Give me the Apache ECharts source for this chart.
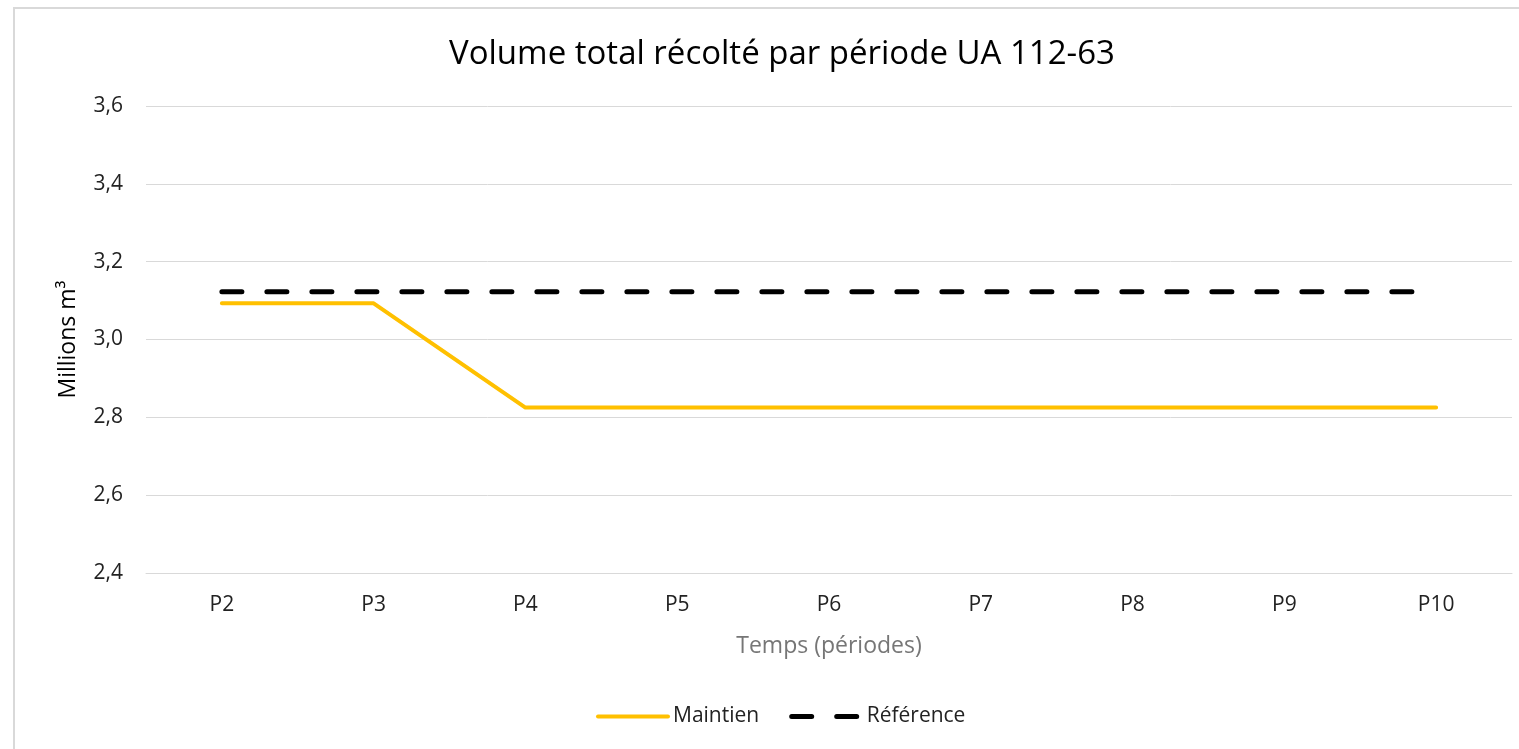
<!DOCTYPE html>
<html>
<head>
<meta charset="utf-8">
<script src="https://cdn.jsdelivr.net/npm/echarts@6/dist/echarts.min.js"></script>
<style>
  html, body { margin: 0; padding: 0; background: #fff; }
  #chart { width: 1519px; height: 749px; }
</style>
</head>
<body>
<div id="chart"></div>
<script>
// chart data
const periodes = ['P2', 'P3', 'P4', 'P5', 'P6', 'P7', 'P8', 'P9', 'P10'];
const maintien = [3.093, 3.093, 2.825, 2.825, 2.825, 2.825, 2.825, 2.825, 2.825];
const reference = [3.123, 3.123, 3.123, 3.123, 3.123, 3.123, 3.123, 3.123, 3.123];

const font = 'Open Sans';

const chart = echarts.init(document.getElementById('chart'));
chart.setOption({
    animation: false,
    textStyle: { fontFamily: font },
    graphic: [{
        type: 'rect',
        shape: { x: 14, y: 8, width: 1700, height: 900 },
        style: { fill: 'none', stroke: '#d9d9d9', lineWidth: 2 },
        silent: true
    }],
    title: {
        text: 'Volume total récolté par période UA 112-63',
        left: 444,
        top: 33,
        textStyle: { fontFamily: font, fontSize: 33, fontWeight: 'normal', color: '#000' }
    },
    legend: {
        bottom: 17,
        left: 591,
        itemWidth: 70,
        itemHeight: 14,
        itemGap: 30,
        itemStyle: { opacity: 0 },
        lineStyle: { width: 'inherit', type: 'inherit', cap: 'inherit' },
        textStyle: { fontFamily: font, fontSize: 21, color: '#222' },
        data: ['Maintien', 'Référence']
    },
    grid: { left: 146, right: 7, top: 106, bottom: 176 },
    xAxis: {
        type: 'category',
        data: periodes,
        boundaryGap: true,
        name: 'Temps (périodes)',
        nameLocation: 'middle',
        nameGap: 62,
        nameTextStyle: { fontFamily: font, fontSize: 23, color: '#767676' },
        axisLine: { show: true, lineStyle: { color: '#d9d9d9', width: 1 } },
        axisTick: { show: false },
        axisLabel: { fontFamily: font, fontSize: 21, color: '#222', margin: 22 }
    },
    yAxis: {
        type: 'value',
        min: 2.4,
        max: 3.6,
        interval: 0.2,
        name: 'Millions m³',
        nameLocation: 'middle',
        nameGap: 66,
        nameTextStyle: { fontFamily: font, fontSize: 23, color: '#000' },
        axisLine: { show: false },
        axisTick: { show: false },
        splitLine: { lineStyle: { color: '#d9d9d9', width: 1 } },
        axisLabel: {
            fontFamily: font, fontSize: 21, color: '#222', margin: 23,
            formatter: function (v) { return v.toFixed(1).replace('.', ','); }
        }
    },
    series: [{
        name: 'Maintien',
        type: 'line',
        data: maintien,
        symbol: 'none',
        itemStyle: { color: '#ffc000' },
        lineStyle: { color: '#ffc000', width: 4, cap: 'round', join: 'round' }
    }, {
        name: 'Référence',
        type: 'line',
        data: reference,
        symbol: 'none',
        itemStyle: { color: '#000' },
        lineStyle: { color: '#000', width: 5, type: [20, 25], cap: 'round' }
    }]
});
</script>
</body>
</html>
